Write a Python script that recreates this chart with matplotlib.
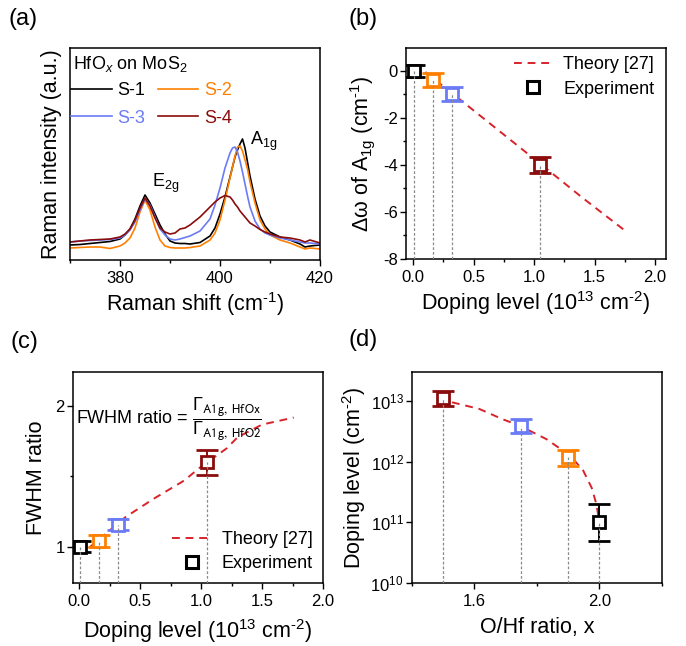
import matplotlib
matplotlib.use("Agg")
import matplotlib.pyplot as plt
from matplotlib.lines import Line2D
from matplotlib.ticker import MultipleLocator, LogLocator, NullLocator, FormatStrFormatter

plt.rcParams.update({
    "font.family": ["Liberation Sans", "DejaVu Sans"],
    "mathtext.fontset": "custom",
    "mathtext.rm": "Liberation Sans",
    "mathtext.it": "Liberation Sans:italic",
    "mathtext.bf": "Liberation Sans:bold",
    "mathtext.default": "regular",
    "axes.unicode_minus": False,
    "axes.linewidth": 1.1,
    "xtick.direction": "out",
    "ytick.direction": "out",
    "xtick.major.size": 4.5,
    "ytick.major.size": 4.0,
    "xtick.minor.size": 2.5,
    "ytick.minor.size": 2.5,
    "xtick.major.width": 1.0,
    "ytick.major.width": 1.0,
    "xtick.minor.width": 1.0,
    "ytick.minor.width": 1.0,
    "ytick.major.pad": 2.0,
    "xtick.labelsize": 12,
    "ytick.labelsize": 12,
    "axes.labelsize": 15.5,
})

# ---------------- data ----------------
samples = ["S-1", "S-2", "S-3", "S-4"]
colors = ["#000000", "#ff8000", "#6b7bf5", "#8b0c0c"]
theory_red = "#d8232a"
guide_gray = "#8a8a8a"

# Raman spectra (arb. units)
raman_shift = [370, 372, 374, 376, 378, 380, 381, 382, 383, 384, 385, 386, 387, 388,
               389, 390, 391, 392, 393, 394, 396, 398, 399, 400, 401, 402, 402.5, 403,
               403.5, 404, 404.5, 405, 405.5, 406, 407, 408, 409, 410, 412, 414, 416,
               417, 418, 420]
int_s1 = [15, 15.5, 16.5, 17.5, 18.5, 21, 25, 31, 41, 54, 65, 57, 46, 35,
          26, 19, 17, 16.5, 16.5, 16, 17.5, 24, 32, 46, 63, 83, 93, 103,
          110, 116, 121, 112, 98, 84, 61, 44, 34, 28, 23, 20, 16,
          13, 14, 15]
int_s2 = [12, 12.5, 13, 13, 11.5, 14, 17, 22, 32, 48, 60, 50, 33, 20,
          14, 12.5, 12, 12, 12, 12.5, 14, 20, 27, 40, 60, 82, 93, 104,
          113, 114, 109, 100, 91, 78, 57, 40, 31, 25, 20, 17, 13,
          11, 12, 11]
int_s3 = [18, 19, 19.5, 20, 20.5, 22, 25, 30, 38, 50, 61, 55, 43, 31,
          25, 21, 20, 21, 22.5, 24, 29, 41, 55, 72, 92, 107, 112, 113,
          108, 99, 88, 76, 64, 53, 39, 31, 27, 25, 22, 20, 18,
          17, 17, 16]
int_s4 = [18, 19, 20, 20.5, 21, 23, 26, 31, 40, 52, 62, 54, 42, 32,
          28, 26, 27, 31, 32, 35, 43, 53, 58, 62, 64.5, 63, 60, 56,
          53, 49, 46, 43, 40, 37, 34, 30.5, 28, 26, 23, 22, 20,
          18, 20, 17]
spectra = [int_s1, int_s2, int_s3, int_s4]

# A1g shift and FWHM ratio versus doping level (1e13 cm^-2)
doping = [0.01, 0.16, 0.32, 1.05]
a1g_shift = [0.0, -0.4, -1.0, -4.0]
a1g_shift_err = [0.25, 0.3, 0.3, 0.33]
fwhm_ratio = [1.0, 1.04, 1.157, 1.60]
fwhm_ratio_err = [0.04, 0.04, 0.04, 0.09]

theory_b_x = [0.10, 0.32, 0.60, 1.05, 1.40, 1.77]
theory_b_y = [-0.05, -0.95, -2.10, -3.95, -5.40, -6.87]
theory_c_x = [0.08, 0.38, 0.61, 0.86, 1.00, 1.21, 1.30, 1.50, 1.76]
theory_c_y = [0.99, 1.21, 1.34, 1.47, 1.57, 1.70, 1.78, 1.87, 1.92]

# Doping level versus O/Hf ratio
oh_ratio = [2.0, 1.9, 1.75, 1.5]
doping_cm2 = [1.0e11, 1.2e12, 3.8e12, 1.1e13]
doping_lo = [5.0e10, 8.5e11, 3.0e12, 8.4e12]
doping_hi = [2.0e11, 1.55e12, 5.0e12, 1.45e13]
theory_d_x = [1.528, 1.615, 1.69, 1.745, 1.83, 1.906, 1.948, 1.975, 1.99, 1.997]
theory_d_y = [9.5e12, 7.4e12, 5.0e12, 3.9e12, 2.35e12, 1.26e12, 7.1e11, 3.7e11, 2.0e11, 1.2e11]

W, H = 686, 646
fig = plt.figure(figsize=(W / 100, H / 100), dpi=100)


def box(left, top, right, bottom):
    return [left / W, 1 - bottom / H, (right - left) / W, (bottom - top) / H]


ax_a = fig.add_axes(box(70, 48, 320, 260))
ax_b = fig.add_axes(box(406, 48, 666, 259))
ax_c = fig.add_axes(box(73, 372, 323, 583))
ax_d = fig.add_axes(box(412, 372, 662, 583))

for lab, (px, py) in zip(["(a)", "(b)", "(c)", "(d)"],
                         [(9, 8), (349, 8), (11, 331), (349, 329)]):
    fig.text(px / W, 1 - py / H, lab, fontsize=17, va="top", ha="left")

DASH = (4, 3)
GUIDE_KW = dict(colors=guide_gray, lw=0.9, linestyles=(0, (2.2, 1.6)), zorder=5)
ERR_KW = dict(fmt="s", mfc="white", ms=8, mew=2.0, capsize=8, capthick=1.7,
              elinewidth=1.4, zorder=4)
DOPING_LABEL = r"Doping level (10$^{13}$ cm$^{\text{-2}}$)"

# ---------------- (a) Raman spectra ----------------
lines_a = {}
for name, col, ys in zip(samples, colors, spectra):
    lines_a[name], = ax_a.plot(raman_shift, ys, color=col, lw=1.2, label=name)
ax_a.set_xlim(370, 420)
ax_a.set_ylim(0, 212)
ax_a.xaxis.set_major_locator(MultipleLocator(20))
ax_a.xaxis.set_minor_locator(MultipleLocator(10))
ax_a.yaxis.set_major_locator(NullLocator())
ax_a.set_xlabel(r"Raman shift (cm$^{\text{-1}}$)", labelpad=3)
ax_a.set_ylabel("Raman intensity (a.u.)", labelpad=6)
ax_a.text(0.012, 0.925, r"HfO$_{\mathit{x}}$ on MoS$_2$", transform=ax_a.transAxes,
          fontsize=13, va="center", ha="left")
# two columns, filled row by row: S-1 S-2 / S-3 S-4
order = ["S-1", "S-3", "S-2", "S-4"]
ax_a.legend([lines_a[k] for k in order], order, loc="upper left",
            bbox_to_anchor=(0.005, 0.84), ncol=2,
            frameon=False, fontsize=13, handlelength=2.25, handletextpad=0.3,
            columnspacing=0.7, labelspacing=0.6, borderpad=0,
            borderaxespad=0, labelcolor="linecolor")
ax_a.text(386.3, 73, "E$_{2g}$", fontsize=13, va="baseline", ha="left")
ax_a.text(406.0, 115, "A$_{1g}$", fontsize=13, va="baseline", ha="left")

# ---------------- (b) A1g shift ----------------
ax_b.vlines(doping, -8, a1g_shift, **GUIDE_KW)
ax_b.plot(theory_b_x, theory_b_y, color=theory_red, lw=1.4, dashes=DASH, zorder=3)
for x, y, e, c in zip(doping, a1g_shift, a1g_shift_err, colors):
    ax_b.errorbar([x], [y], yerr=[e], mec=c, ecolor=c, **ERR_KW)
ax_b.set_xlim(-0.06, 2.09)
ax_b.set_ylim(-8, 0.97)
ax_b.xaxis.set_major_locator(MultipleLocator(0.5))
ax_b.xaxis.set_minor_locator(MultipleLocator(0.25))
ax_b.yaxis.set_major_locator(MultipleLocator(2))
ax_b.yaxis.set_minor_locator(MultipleLocator(1))
ax_b.xaxis.set_major_formatter(FormatStrFormatter("%.1f"))
ax_b.set_xlabel(DOPING_LABEL, labelpad=3)
ax_b.set_ylabel(r"$\Delta\omega$ of A$_{1g}$ (cm$^{\text{-1}}$)", labelpad=4)

legend_handles = [
    Line2D([], [], color=theory_red, lw=1.4, dashes=DASH),
    Line2D([], [], ls="none", marker="s", mfc="none", mec="k", ms=8, mew=2.2),
]
legend_labels = ["Theory [27]", "Experiment"]
ax_b.legend(legend_handles, legend_labels, loc="upper right",
            bbox_to_anchor=(0.955, 0.96), frameon=False, fontsize=13,
            handlelength=2.2, handletextpad=0.55, labelspacing=0.4,
            borderpad=0, borderaxespad=0)

# ---------------- (c) FWHM ratio ----------------
ax_c.vlines(doping, 0.74, fwhm_ratio, **GUIDE_KW)
ax_c.plot(theory_c_x, theory_c_y, color=theory_red, lw=1.4, dashes=DASH, zorder=3)
for x, y, e, c in zip(doping, fwhm_ratio, fwhm_ratio_err, colors):
    ax_c.errorbar([x], [y], yerr=[e], mec=c, ecolor=c, **ERR_KW)
ax_c.set_xlim(-0.05, 2.0)
ax_c.set_ylim(0.74, 2.245)
ax_c.xaxis.set_major_locator(MultipleLocator(0.5))
ax_c.xaxis.set_minor_locator(MultipleLocator(0.25))
ax_c.yaxis.set_major_locator(MultipleLocator(1))
ax_c.yaxis.set_minor_locator(MultipleLocator(0.5))
ax_c.xaxis.set_major_formatter(FormatStrFormatter("%.1f"))
ax_c.set_xlabel(DOPING_LABEL, labelpad=6)
ax_c.set_ylabel("FWHM ratio", labelpad=6)
ax_c.text(0.012, 0.775,
          r"FWHM ratio = $\dfrac{\Gamma_{\mathsf{A1g,\ HfOx}}}{\Gamma_{\mathsf{A1g,\ HfO2}}}$",
          transform=ax_c.transAxes, fontsize=13, va="center", ha="left",
          math_fontfamily="stix")
ax_c.legend(legend_handles, legend_labels, loc="lower right",
            bbox_to_anchor=(0.96, 0.05), frameon=False, fontsize=13,
            handlelength=2.2, handletextpad=0.55, labelspacing=0.4,
            borderpad=0, borderaxespad=0)

# ---------------- (d) doping vs O/Hf ratio ----------------
ax_d.set_yscale("log")
ax_d.vlines(oh_ratio, 1e10, doping_cm2, **GUIDE_KW)
ax_d.plot(theory_d_x, theory_d_y, color=theory_red, lw=1.4, dashes=DASH, zorder=3)
for x, y, lo, hi, c in zip(oh_ratio, doping_cm2, doping_lo, doping_hi, colors):
    ax_d.errorbar([x], [y], yerr=[[y - lo], [hi - y]], mec=c, ecolor=c, **ERR_KW)
ax_d.set_xlim(1.4, 2.2)
ax_d.set_ylim(1e10, 3e13)
ax_d.xaxis.set_major_locator(MultipleLocator(0.4))
ax_d.xaxis.set_minor_locator(MultipleLocator(0.2))
ax_d.xaxis.set_major_formatter(FormatStrFormatter("%.1f"))
ax_d.yaxis.set_major_locator(LogLocator(base=10, numticks=10))
ax_d.yaxis.set_minor_locator(NullLocator())
ax_d.set_xlabel("O/Hf ratio, x", labelpad=6)
ax_d.set_ylabel(r"Doping level (cm$^{\text{-2}}$)", labelpad=2)

fig.savefig("out.png", dpi=100)
